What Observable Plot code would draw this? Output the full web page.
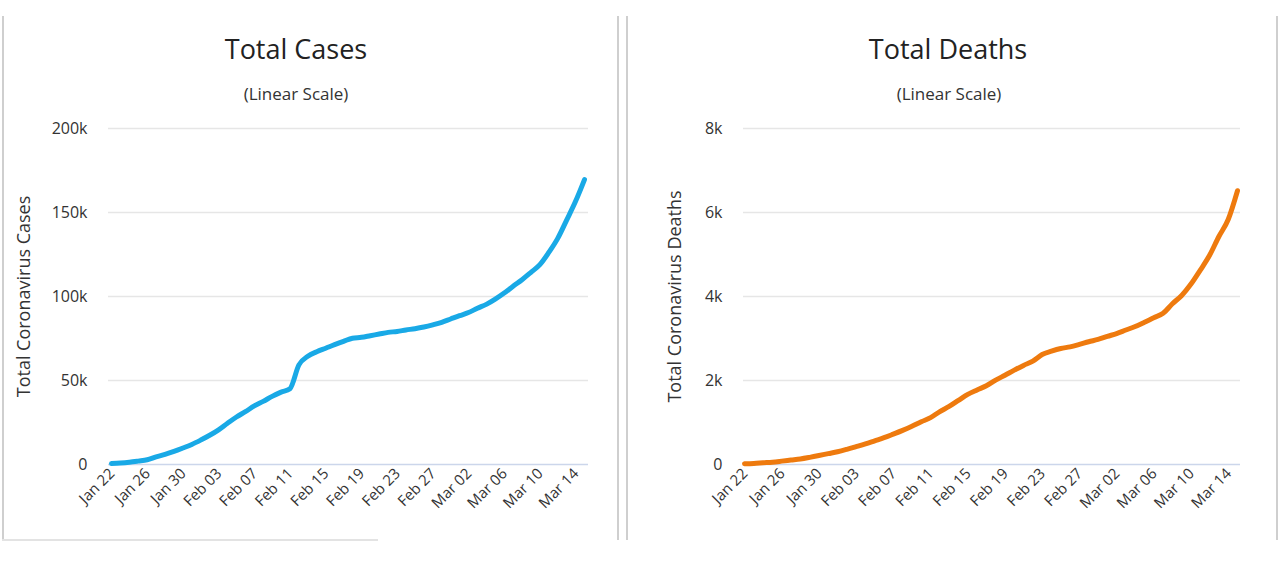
<!DOCTYPE html>
<html><head><meta charset="utf-8">
<script src="https://cdn.jsdelivr.net/npm/d3@7"></script>
<script src="https://cdn.jsdelivr.net/npm/@observablehq/plot@0.6"></script>
<style>
body{margin:0;background:#fff;width:1279px;height:561px;position:relative;overflow:hidden;font-family:"Open Sans",sans-serif;}
.abs{position:absolute;}
.title{position:absolute;font-size:27px;line-height:30px;color:#222;transform:translateX(-50%);white-space:nowrap;}
.sub{position:absolute;font-size:17px;line-height:20px;color:#333;transform:translateX(-50%);white-space:nowrap;}
.vline{position:absolute;width:2px;background:#cfcfcf;}
.hline{position:absolute;height:2px;background:#e3e3e3;}
</style></head>
<body>
<div class="vline" style="left:2px;top:16px;height:524px"></div>
<div class="vline" style="left:617px;top:16px;height:524px"></div>
<div class="vline" style="left:626px;top:16px;height:524px"></div>
<div class="vline" style="left:1276px;top:16px;height:524px"></div>
<div class="hline" style="left:2px;top:539px;width:376px"></div>

<div class="title" style="left:296px;top:34px">Total Cases</div>
<div class="sub" style="left:296px;top:84px">(Linear Scale)</div>
<div class="title" style="left:948px;top:34px">Total Deaths</div>
<div class="sub" style="left:949px;top:84px">(Linear Scale)</div>

<div id="c1" class="abs" style="left:0px;top:110px"></div>
<div id="c2" class="abs" style="left:630px;top:110px"></div>
<script>
const startDate = "2020-01-22";
const endDate = "2020-03-15";
const totalCases = [580,845,1317,2015,2800,4581,6058,7813,9823,11948,14551,17389,20628,24553,28276,31439,34876,37552,40553,43099,45134,59287,64438,67100,69197,71329,73332,75184,75700,76677,77673,78651,79205,80087,80828,81820,83112,84615,86604,88585,90443,93016,95314,98425,102050,106099,109991,114381,118948,126214,134576,145483,156653,169593];
const totalDeaths = [17,25,41,56,80,106,132,170,213,259,304,362,426,492,565,638,724,813,910,1018,1115,1261,1383,1526,1669,1775,1873,2009,2126,2247,2360,2460,2618,2699,2763,2800,2858,2923,2977,3050,3117,3202,3285,3387,3494,3599,3827,4025,4296,4628,4981,5428,5833,6519];
const tickLabels = ["Jan 22","Jan 26","Jan 30","Feb 03","Feb 07","Feb 11","Feb 15","Feb 19","Feb 23","Feb 27","Mar 02","Mar 06","Mar 10","Mar 14"];
const tickDateStrings = ["2020-01-22","2020-01-26","2020-01-30","2020-02-03","2020-02-07","2020-02-11","2020-02-15","2020-02-19","2020-02-23","2020-02-27","2020-03-02","2020-03-06","2020-03-10","2020-03-14"];
const casesTicks = [0,50000,100000,150000,200000];
const casesTickLabels = ["0","50k","100k","150k","200k"];
const deathsTicks = [0,2000,4000,6000,8000];
const deathsTickLabels = ["0","2k","4k","6k","8k"];

const days = d3.utcDay.range(new Date(startDate), d3.utcDay.offset(new Date(endDate), 1));
const tickDates = tickDateStrings.map(s => new Date(s));

function chart({values, yMax, yTicks, yLabels, yTitle, color, width, marginLeft, marginRight, insetLeft, insetRight, titleDx}) {
  const data = days.map((d, i) => ({date: d, value: values[i]}));
  return Plot.plot({
    width, height: 440,
    marginLeft, marginRight, marginTop: 18, marginBottom: 86,
    insetLeft, insetRight,
    style: {fontFamily: "'Open Sans', sans-serif", background: "transparent", overflow: "visible"},
    x: {type: "utc", domain: [days[0], days[days.length - 1]], axis: null},
    y: {domain: [0, yMax], axis: null},
    marks: [
      Plot.ruleY(yTicks.filter(t => t > 0), {stroke: "#e6e6e6", strokeWidth: 1.3}),
      Plot.ruleY([0], {stroke: "#ccd6eb", strokeWidth: 1.3}),
      Plot.axisY({ticks: yTicks, tickFormat: (d) => yLabels[yTicks.indexOf(d)], tickSize: 0, tickPadding: 21, fontSize: 16, fill: "#333", label: null}),
      Plot.text([yTitle], {frameAnchor: "left", textAnchor: "middle", dx: titleDx, rotate: -90, fontSize: 18, fill: "#333", text: d => d}),
      Plot.text(tickDates, {x: d => d, frameAnchor: "bottom", text: (d, i) => tickLabels[i], rotate: -45, textAnchor: "end", dx: 4, dy: 10, fontSize: 15, fill: "#333"}),
      Plot.line(data, {x: "date", y: "value", stroke: color, strokeWidth: 5, curve: "monotone-x", strokeLinecap: "round", strokeLinejoin: "round"})
    ]
  });
}

document.getElementById("c1").append(chart({
  values: totalCases, yMax: 200000, yTicks: casesTicks, yLabels: casesTickLabels,
  yTitle: "Total Coronavirus Cases", color: "#19a9e6",
  width: 615, marginLeft: 108, marginRight: 27, insetLeft: 3, insetRight: 4, titleDx: -84
}));
document.getElementById("c2").append(chart({
  values: totalDeaths, yMax: 8000, yTicks: deathsTicks, yLabels: deathsTickLabels,
  yTitle: "Total Coronavirus Deaths", color: "#ee7a0e",
  width: 645, marginLeft: 113, marginRight: 35, insetLeft: 1, insetRight: 3, titleDx: -68
}));
</script>
</body></html>
